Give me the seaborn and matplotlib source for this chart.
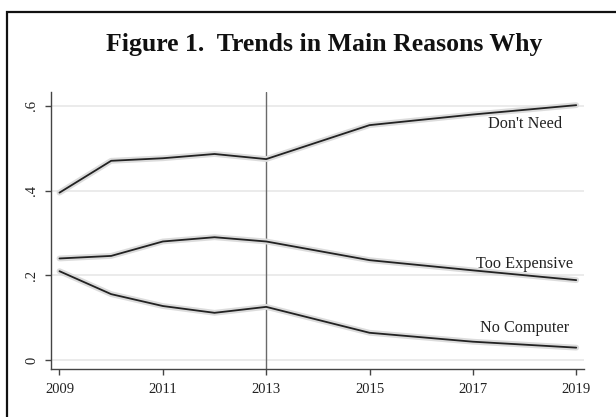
import matplotlib
matplotlib.use("Agg")
import matplotlib.pyplot as plt
from matplotlib.patches import Rectangle
import seaborn as sns
import pandas as pd

years = [2009, 2010, 2011, 2012, 2013, 2015, 2017, 2019]
dont_need = [0.395, 0.470, 0.476, 0.486, 0.474, 0.554, 0.579, 0.601]
too_expensive = [0.240, 0.246, 0.280, 0.290, 0.280, 0.236, 0.212, 0.189]
no_computer = [0.210, 0.156, 0.128, 0.112, 0.126, 0.065, 0.044, 0.030]
series_names = ["Don't Need", "Too Expensive", "No Computer"]
label_y = [0.548, 0.218, 0.068]
label_x = 2018
xticks = [2009, 2011, 2013, 2015, 2017, 2019]
yticks = [0, 0.2, 0.4, 0.6]
ytick_labels = ["0", ".2", ".4", ".6"]
title = "Figure 1.  Trends in Main Reasons Why"
policy_year = 2013

sns.set_theme(style="white")
plt.rcParams['font.family'] = ['Liberation Serif', 'DejaVu Serif']

df = pd.DataFrame({
    "year": years * 3,
    "share": dont_need + too_expensive + no_computer,
    "reason": [series_names[0]] * len(years) + [series_names[1]] * len(years) + [series_names[2]] * len(years),
})

fig = plt.figure(figsize=(6.16, 4.17), dpi=100)
fig.patch.set_facecolor("white")
ax = fig.add_axes([50.7 / 616, 1 - 369.3 / 417, (584 - 50.7) / 616, (369.3 - 92) / 417])

# soft shadow band under each line
sns.lineplot(data=df, x="year", y="share", units="reason", estimator=None,
             color="#dcdcdc", lw=4.2, ax=ax, legend=False, zorder=2)
sns.lineplot(data=df, x="year", y="share", units="reason", estimator=None,
             color="#222222", lw=1.3, ax=ax, legend=False, zorder=3)

ax.axvline(policy_year, color="#6a6a6a", lw=1.0, zorder=1)

ax.set_xlim(2008.83, 2019.15)
ax.set_ylim(-0.021, 0.632)
ax.set_xticks(xticks)
ax.set_xticklabels([str(x) for x in xticks])
ax.set_yticks(yticks)
ax.set_yticklabels(ytick_labels, rotation=90, va="center")
ax.grid(axis="y", color="#e8e8e8", lw=1.2, zorder=0)
ax.set_axisbelow(True)
ax.set_xlabel("")
ax.set_ylabel("")
for s in ["top", "right"]:
    ax.spines[s].set_visible(False)
for s in ["left", "bottom"]:
    ax.spines[s].set_color("#444444")
    ax.spines[s].set_linewidth(1.0)
ax.tick_params(axis="both", which="major", length=4, width=1.0, color="#444444",
               labelcolor="#222222", labelsize=10.5, direction="out")
ax.tick_params(axis="x", pad=6, bottom=True)
ax.tick_params(axis="y", pad=5, left=True)

for name, yv in zip(series_names, label_y):
    ax.text(label_x, yv, name, ha="center", va="baseline", fontsize=11.7, color="#222222")

fig.text(324 / 616, 1 - 44 / 417, title, ha="center", va="center",
         fontsize=18.5, fontweight="bold", color="#111111")

fig.add_artist(Rectangle((6.7 / 616, -0.2), 1.2, 1.2 - 11.7 / 417,
                         transform=fig.transFigure, fill=False,
                         edgecolor="#111111", lw=1.6, clip_on=False))

fig.savefig("out.png", dpi=100, facecolor="white")
